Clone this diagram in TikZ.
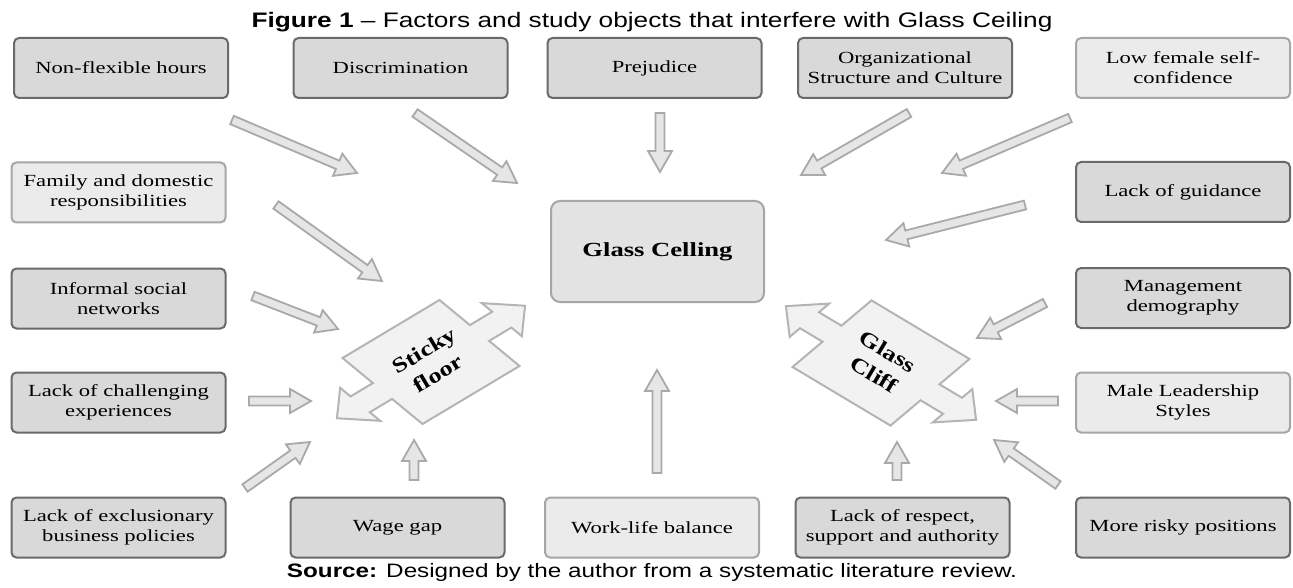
\documentclass[tikz,border=0pt]{standalone}
\usepackage{fontspec}
\usepackage{tikz}
\usetikzlibrary{calc}
\setmainfont{Liberation Serif}
\newfontfamily\boxfont[FakeStretch=1.33]{Liberation Serif}
\newfontfamily\gatefont[FakeStretch=1.25]{Liberation Serif}
\newfontfamily\capfont[FakeStretch=1.25]{Liberation Sans}
\definecolor{filldark}{HTML}{D9D9D9}
\definecolor{edgedark}{HTML}{6A6A6A}
\definecolor{filllight}{HTML}{EBEBEB}
\definecolor{edgelight}{HTML}{A6A6A6}
\definecolor{corefill}{HTML}{E3E3E3}
\definecolor{gatefill}{HTML}{F2F2F2}
\definecolor{gateedge}{HTML}{B4B4B4}
\definecolor{arrowfill}{HTML}{E6E6E6}
\definecolor{arrowedge}{HTML}{A9A9A9}

\newcommand{\blockarrow}[2]{%
  \path[blockarrow] let \p1=($(#2)-(#1)$), \n1={atan2(\y1,\x1)}, \n2={veclen(\x1,\y1)} in
    {[shift={(#1)}, rotate=\n1, x=1pt, y=1pt]
    (0,-4.5) -- ({\n2-21},-4.5) -- ({\n2-21},-12) -- (\n2,0) -- ({\n2-21},12) -- ({\n2-21},4.5) -- (0,4.5) -- cycle};}

\begin{document}
\begin{tikzpicture}[x=1pt, y=-1pt,
    factor/.style={rectangle, draw=edgedark, fill=filldark, line width=2pt, rounded corners=5pt, minimum width=214pt, minimum height=60pt, inner sep=2pt, align=center, font=\boxfont\fontsize{17}{20}\selectfont},
    factorlight/.style={factor, draw=edgelight, fill=filllight},
    core/.style={rectangle, draw=edgelight, fill=corefill, line width=2pt, rounded corners=9pt, minimum width=213pt, minimum height=101pt, font=\boxfont\bfseries\fontsize{20}{24}\selectfont},
    gate/.style={draw=gateedge, fill=gatefill, line width=2pt},
    gatetext/.style={align=center, inner sep=1pt, font=\gatefont\bfseries\fontsize{21}{27}\selectfont},
    blockarrow/.style={draw=arrowedge, fill=arrowfill, line width=1.8pt}
]
    \useasboundingbox (0,0) rectangle (1293,588);

    \node[font=\capfont\fontsize{21}{24}\selectfont] (title) at (652,22) {\textbf{Figure 1} – Factors and study objects that interfere with Glass Ceiling};
    \node[font=\capfont\fontsize{19.4}{22}\selectfont] (source) at (652,572) {\textbf{Source:} Designed by the author from a systematic literature review.};

    \node[factor] (nfh) at (121,68) {Non-flexible hours};
    \node[factor] (disc) at (400.5,68) {Discrimination};
    \node[factor] (prej) at (654.5,68) {Prejudice};
    \node[factor] (org) at (905,68) {Organizational\\Structure and Culture};
    \node[factorlight] (conf) at (1183,68) {Low female self-\\confidence};
    \node[factorlight] (fam) at (118.5,192.5) {Family and domestic\\responsibilities};
    \node[factor] (guid) at (1183,192) {Lack of guidance};
    \node[factor] (inf) at (118.5,298.5) {Informal social\\networks};
    \node[factor] (mgmt) at (1183,298) {Management\\demography};
    \node[factor] (chal) at (118.5,402.5) {Lack of challenging\\experiences};
    \node[factorlight] (male) at (1183,402.5) {Male Leadership\\Styles};
    \node[factor] (excl) at (118.5,527.5) {Lack of exclusionary\\business policies};
    \node[factor] (wage) at (397.5,527.5) {Wage gap};
    \node[factorlight] (wlb) at (652,527.5) {Work-life balance};
    \node[factor] (resp) at (902.5,527.5) {Lack of respect,\\support and authority};
    \node[factor] (risk) at (1183,527.5) {More risky positions};

    \node[core] (gc) at (657.5,251.5) {Glass Celling};

    \begin{scope}[shift={(431,362)}, x={(97pt,58pt)}, y={(80pt,-66pt)}]
        \draw[gate] (-0.5,-0.5) -- (0.5,-0.5) -- (0.5,-0.12) -- (0.73,-0.12) -- (0.73,-0.25) -- (0.97,0) -- (0.73,0.25) -- (0.73,0.12) -- (0.5,0.12) -- (0.5,0.5) -- (-0.5,0.5) -- (-0.5,0.12) -- (-0.73,0.12) -- (-0.73,0.25) -- (-0.97,0) -- (-0.73,-0.25) -- (-0.73,-0.12) -- (-0.5,-0.12) -- cycle;
        \node[gatetext, rotate=30.9] (sticky) at (0,0) {Sticky\\floor};
    \end{scope}
    \begin{scope}[shift={(881,363)}, x={(98pt,-58.6pt)}, y={(79pt,66.6pt)}]
        \draw[gate] (-0.5,-0.5) -- (0.5,-0.5) -- (0.5,-0.12) -- (0.73,-0.12) -- (0.73,-0.25) -- (0.97,0) -- (0.73,0.25) -- (0.73,0.12) -- (0.5,0.12) -- (0.5,0.5) -- (-0.5,0.5) -- (-0.5,0.12) -- (-0.73,0.12) -- (-0.73,0.25) -- (-0.97,0) -- (-0.73,-0.25) -- (-0.73,-0.12) -- (-0.5,-0.12) -- cycle;
        \node[gatetext, rotate=-30.9] (cliff) at (0,0) {Glass\\Cliff};
    \end{scope}

    \coordinate (nfh-t) at (232,120);   \coordinate (nfh-h) at (357,173);
    \coordinate (disc-t) at (415,113);  \coordinate (disc-h) at (517,183);
    \coordinate (prej-t) at (660,113);  \coordinate (prej-h) at (660,172);
    \coordinate (org-t) at (909,113);   \coordinate (org-h) at (801,175);
    \coordinate (conf-t) at (1070,118); \coordinate (conf-h) at (942,173);
    \coordinate (fam-t) at (276,205);   \coordinate (fam-h) at (382,281);
    \coordinate (guid-t) at (1025,205); \coordinate (guid-h) at (886,240);
    \coordinate (inf-t) at (253,296);   \coordinate (inf-h) at (338,329);
    \coordinate (mgmt-t) at (1045,303); \coordinate (mgmt-h) at (977,338);
    \coordinate (chal-t) at (249,401);  \coordinate (chal-h) at (311,401);
    \coordinate (male-t) at (1058,401); \coordinate (male-h) at (996,401);
    \coordinate (excl-t) at (245,488);  \coordinate (excl-h) at (310,442);
    \coordinate (wage-t) at (414,480);  \coordinate (wage-h) at (414,440);
    \coordinate (wlb-t) at (657,473);   \coordinate (wlb-h) at (657,370);
    \coordinate (resp-t) at (897,480);  \coordinate (resp-h) at (897,442);
    \coordinate (risk-t) at (1058,485); \coordinate (risk-h) at (994,440);

    \blockarrow{nfh-t}{nfh-h}
    \blockarrow{disc-t}{disc-h}
    \blockarrow{prej-t}{prej-h}
    \blockarrow{org-t}{org-h}
    \blockarrow{conf-t}{conf-h}
    \blockarrow{fam-t}{fam-h}
    \blockarrow{guid-t}{guid-h}
    \blockarrow{inf-t}{inf-h}
    \blockarrow{mgmt-t}{mgmt-h}
    \blockarrow{chal-t}{chal-h}
    \blockarrow{male-t}{male-h}
    \blockarrow{excl-t}{excl-h}
    \blockarrow{wage-t}{wage-h}
    \blockarrow{wlb-t}{wlb-h}
    \blockarrow{resp-t}{resp-h}
    \blockarrow{risk-t}{risk-h}
\end{tikzpicture}
\end{document}
